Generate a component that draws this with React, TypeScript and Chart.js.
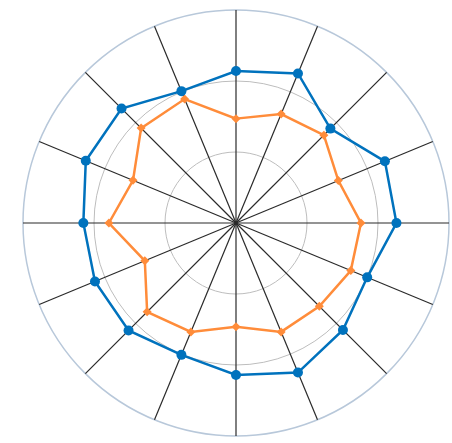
import { useEffect, useRef } from 'react';
import Chart from 'chart.js/auto';

const LABELS = ['A1', 'A2', 'A3', 'A4', 'A5', 'A6', 'A7', 'A8', 'A9', 'A10', 'A11', 'A12', 'A13', 'A14', 'A15', 'A16'];
const SERIES_A = [21.4, 22.8, 18.8, 22.7, 22.6, 20.0, 21.3, 22.8, 21.4, 20.1, 21.4, 21.5, 21.5, 22.9, 22.8, 20.1];
const SERIES_B = [14.7, 16.6, 17.5, 15.6, 17.6, 17.5, 16.6, 16.6, 14.6, 16.6, 17.7, 13.9, 17.9, 15.7, 18.9, 18.9];
const R_MAX = 30;
const R_STEP = 10;

const C = {
  blue: '#0072BD',
  orange: '#FF8C3A',
  spoke: '#2a2a2a',
  grid: '#bdbdbd',
  outer: '#b8c8da'
};

export default function App() {
  const canvasRef = useRef<HTMLCanvasElement | null>(null);

  useEffect(() => {
    if (!canvasRef.current) return;
    const chart = new Chart(canvasRef.current, {
      type: 'radar',
      data: {
        labels: LABELS,
        datasets: [
          {
            label: 'Series 1',
            data: SERIES_A,
            borderColor: C.blue,
            backgroundColor: C.blue,
            borderWidth: 2.5,
            pointRadius: 5,
            pointBackgroundColor: C.blue,
            pointBorderWidth: 0,
            fill: false
          },
          {
            label: 'Series 2',
            data: SERIES_B,
            borderColor: C.orange,
            backgroundColor: C.orange,
            borderWidth: 2.5,
            pointRadius: 4.5,
            pointStyle: 'rectRot',
            pointBackgroundColor: C.orange,
            pointBorderWidth: 0,
            fill: false
          }
        ]
      },
      options: {
        animation: false,
        responsive: true,
        maintainAspectRatio: false,
        layout: {
          padding: { left: 23, right: 3, top: 10, bottom: 7 }
        },
        plugins: {
          legend: { display: false },
          tooltip: { enabled: false }
        },
        scales: {
          r: {
            min: 0,
            max: R_MAX,
            ticks: { display: false, stepSize: R_STEP },
            pointLabels: { display: false },
            angleLines: { color: C.spoke, lineWidth: 1.2 },
            grid: {
              color: (ctx) => (ctx.tick && ctx.tick.value === R_MAX ? C.outer : C.grid),
              lineWidth: (ctx) => (ctx.tick && ctx.tick.value === R_MAX ? 1.5 : 1),
              circular: true
            }
          }
        }
      }
    });
    return () => chart.destroy();
  }, []);

  return (
    <div style={{ position: 'absolute', left: 0, top: 0, width: 452, height: 443 }}>
      <canvas ref={canvasRef}></canvas>
    </div>
  );
}
